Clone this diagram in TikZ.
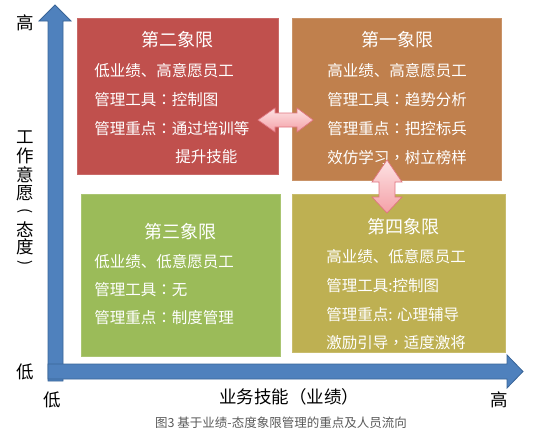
\documentclass[tikz,border=0pt]{standalone}
\usepackage{fontspec}
\setmainfont{Noto Sans CJK SC}
\newfontfamily\tcfont{Noto Sans CJK TC}
\usetikzlibrary{positioning}
\definecolor{axisblue}{HTML}{4F81BD}
\definecolor{axisedge}{HTML}{3A6598}
\definecolor{quadone}{HTML}{C0804D}
\definecolor{quadtwo}{HTML}{C0504D}
\definecolor{quadthree}{HTML}{9BBB59}
\definecolor{quadfour}{HTML}{BEB052}
\definecolor{swaptop}{HTML}{FDE3E4}
\definecolor{swapbot}{HTML}{F4A0A7}
\definecolor{swapedge}{HTML}{E07580}
\newcommand{\titlefont}{\fontsize{18}{20}\selectfont}
\newcommand{\boxfont}{\fontsize{15.5}{18}\selectfont}
\newcommand{\axisfont}{\fontsize{17.5}{19}\selectfont}
\newcommand{\cpunct}[1]{{\tcfont #1}}
\newcommand{\vparen}[1]{\rotatebox[origin=c]{-90}{\fontsize{15}{15}\selectfont #1}}

\begin{document}
\begin{tikzpicture}[x=1pt,y=-1pt,line width=0.6pt,
  quad/.style={draw=#1!85!white,fill=#1,inner sep=0pt,anchor=north west},
  qtitle/.style={text=white,font=\titlefont,inner sep=0pt},
  qline/.style={text=white,font=\boxfont,inner sep=0pt,anchor=west},
  axislbl/.style={font=\axisfont,inner sep=0pt},
  axisarrow/.style={fill=axisblue,draw=axisedge,line width=0.8pt},
  swap/.style={top color=swaptop,bottom color=swapbot,draw=swapedge,line width=0.7pt}]
\useasboundingbox (0,0) rectangle (541,439);

% axes
\draw[axisarrow] (48,381) -- (48,21) -- (39,21) -- (55,5) -- (71,21) -- (63,21) -- (63,381) -- cycle;
\draw[axisarrow] (48,364) -- (507,364) -- (507,355) -- (523,371.5) -- (507,388) -- (507,379) -- (48,379) -- cycle;

% quadrants
\node[quad=quadtwo,minimum width=201pt,minimum height=156pt] (q2) at (77,18) {};
\node[quad=quadone,minimum width=209pt,minimum height=162pt] (q1) at (292,18) {};
\node[quad=quadthree,minimum width=199pt,minimum height=162pt] (q3) at (81,194) {};
\node[quad=quadfour,minimum width=213pt,minimum height=158pt] (q4) at (292,194) {};

\node[qtitle] (q2t) at (177,40) {第二象限};
\foreach \txt [count=\i] in {低业绩、高意愿员工,管理工具\cpunct{：}控制图,管理重点\cpunct{：}通过培训等}
  \node[qline] (q2l\i) at (94,{71+28.7*(\i-1)}) {\txt};
\node[qline] (q2l4) at (175,157) {提升技能};

\node[qtitle] (q1t) at (397,40) {第一象限};
\foreach \txt [count=\i] in {高业绩、高意愿员工,管理工具\cpunct{：}趋势分析,管理重点\cpunct{：}把控标兵,效仿学习\cpunct{，}树立榜样}
  \node[qline] (q1l\i) at (327,{71+28.7*(\i-1)}) {\txt};

\node[qtitle] (q3t) at (180,232) {第三象限};
\foreach \txt [count=\i] in {低业绩、低意愿员工,管理工具\cpunct{：}无,管理重点\cpunct{：}制度管理}
  \node[qline] (q3l\i) at (94,{262+28*(\i-1)}) {\txt};

\node[qtitle] (q4t) at (403,227) {第四象限};
\foreach \txt [count=\i] in {高业绩、低意愿员工,管理工具:控制图,管理重点: 心理辅导,激励引导\cpunct{，}适度激将}
  \node[qline] (q4l\i) at (326,{257+28.7*(\i-1)}) {\txt};

% flows between quadrants
\draw[swap] (258,120) -- (275,108) -- (275,113) -- (297,113) -- (297,108) -- (313,120)
  -- (297,132) -- (297,127) -- (275,127) -- (275,132) -- cycle;
\draw[swap] (387,160) -- (402,182) -- (395,182) -- (395,197) -- (402,197) -- (387,213)
  -- (372,197) -- (379,197) -- (379,182) -- (372,182) -- cycle;

% axis labels
\node[axislbl] (yhigh) at (25,23) {高};
\node[axislbl] (ylow) at (25,372) {低};
\node[axislbl] (xlow) at (52,400) {低};
\node[axislbl] (xhigh) at (499,400) {高};
\foreach \ch/\yy [count=\k] in {工/137,作/156,意/175,愿/193,\vparen{(}/212,态/230,度/247,\vparen{)}/264}
  \node[axislbl] (yname\k) at (25,\yy) {\ch};
\node[axislbl] (xname) at (289,397) {业务技能（业绩）};

\node[text=black!65,font=\fontsize{12.5}{14}\selectfont,inner sep=0pt] (caption) at (281,423)
  {图3 基于业绩-态度象限管理的重点及人员流向};
\end{tikzpicture}
\end{document}
